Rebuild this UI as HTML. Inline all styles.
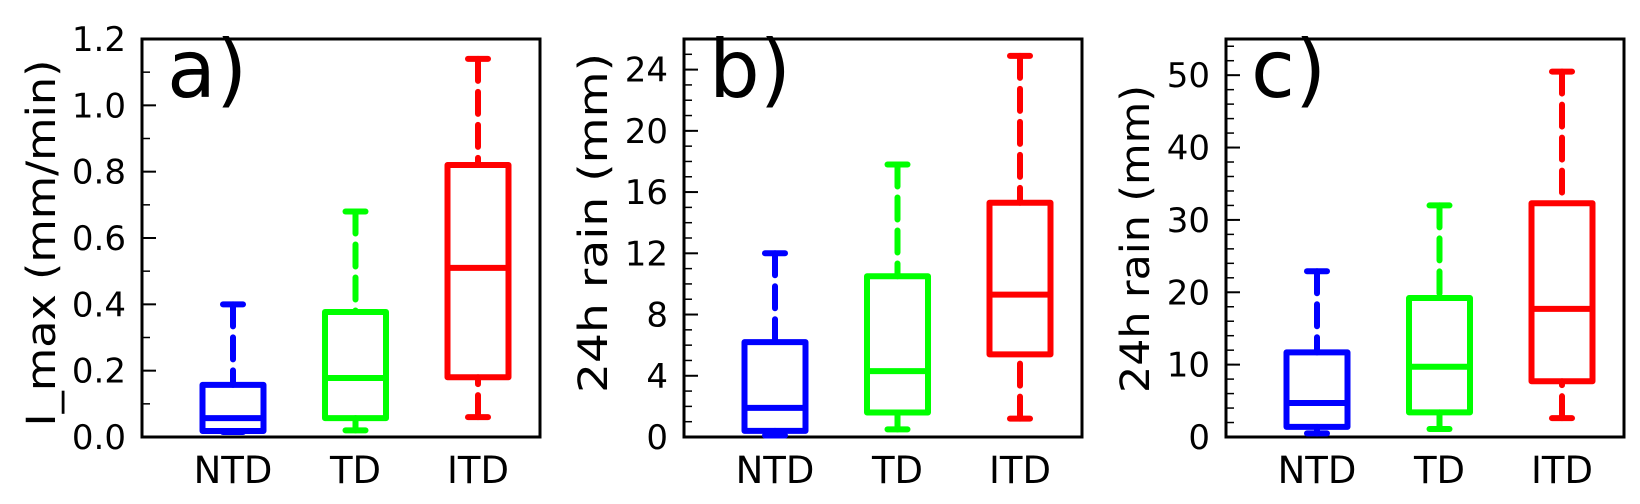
<!DOCTYPE html>
<html><head><meta charset="utf-8"><style>
html,body{margin:0;padding:0;background:#fff;}
svg{display:block;font-family:"DejaVu Sans","Liberation Sans",sans-serif;}
</style></head><body>
<svg id="chart" width="1640" height="504" viewBox="0 0 1640 504" xmlns="http://www.w3.org/2000/svg"></svg>
<script>
const categories = ["NTD", "TD", "ITD"];
const colors = ["#0000ff", "#00ff00", "#ff0000"];
// [min, q1, median, q3, max]
const panelAStats = [[0.015, 0.018, 0.057, 0.157, 0.40], [0.02, 0.057, 0.178, 0.377, 0.68], [0.06, 0.18, 0.51, 0.82, 1.14]];
const panelBStats = [[0.1, 0.4, 1.9, 6.2, 12.0], [0.5, 1.6, 4.3, 10.5, 17.8], [1.2, 5.4, 9.3, 15.3, 24.9]];
const panelCStats = [[0.5, 1.4, 4.7, 11.7, 22.9], [1.1, 3.4, 9.7, 19.2, 32.0], [2.6, 7.7, 17.7, 32.3, 50.5]];
const panelATicks = ["0.0", "0.2", "0.4", "0.6", "0.8", "1.0", "1.2"];
const panelBTicks = ["0", "4", "8", "12", "16", "20", "24"];
const panelCTicks = ["0", "10", "20", "30", "40", "50"];
const panelTitles = ["I_max (mm/min)", "24h rain (mm)", "24h rain (mm)"];
const panelLetters = ["a)", "b)", "c)"];

(function () {
const NS = "http://www.w3.org/2000/svg";
const svg = document.getElementById("chart");
function mk(tag, attrs, parent) {
  const e = document.createElementNS(NS, tag);
  for (const k in attrs) e.setAttribute(k, attrs[k]);
  (parent || svg).appendChild(e);
  return e;
}
const panels = [
  {left: 142, stats: panelAStats, ticks: panelATicks, max: 1.2, minor: 0.1, titleDx: 101, titleY: 243, titleLen: 367, name: "panel-a"},
  {left: 684, stats: panelBStats, ticks: panelBTicks, max: 26, minor: 1, titleDx: 91, titleY: 223, titleLen: 340, name: "panel-b"},
  {left: 1226, stats: panelCStats, ticks: panelCTicks, max: 55, minor: 2, titleDx: 91, titleY: 239, titleLen: 308, name: "panel-c"}
];
const plotTop = 39, plotBottom = 437, W = 398;
panels.forEach((p, pi) => {
  const g = mk("g", {});
  
  
  const y = v => plotBottom - v / p.max * (plotBottom - plotTop);
  const x = i => p.left + 91 + i * 122.5;
  const nMinor = Math.floor(p.max / p.minor + 1e-6);
  for (let k = 0; k <= nMinor; k++) {
    const v = k * p.minor;
    const t = mk("line", {x1: p.left, x2: p.left + 8, y1: y(v), y2: y(v), stroke: "#000", "stroke-width": 1.5}, g);
    
    
  }
  p.ticks.forEach(lbl => {
    const v = parseFloat(lbl);
    const t = mk("line", {x1: p.left, x2: p.left + 14, y1: y(v), y2: y(v), stroke: "#000", "stroke-width": 2}, g);
    
    
    const tx = mk("text", {x: p.left - 16, y: y(v) + 12, "text-anchor": "end", "font-size": 34, fill: "#000"}, g);
    tx.textContent = lbl;
    
    
  });
  const fr = mk("rect", {x: p.left, y: plotTop, width: W, height: plotBottom - plotTop, fill: "none", stroke: "#000", "stroke-width": 3}, g);
  
  
  const tt = mk("text", {x: 0, y: 0, "text-anchor": "middle", "font-size": 40, fill: "#000", transform: `translate(${p.left - p.titleDx + 14},${p.titleY}) rotate(-90)`, textLength: p.titleLen, lengthAdjust: "spacingAndGlyphs"}, g);
  tt.textContent = panelTitles[pi];
  
  
  const pl = mk("text", {x: p.left + 25, y: 97, "font-size": 80, fill: "#000"}, g);
  pl.textContent = panelLetters[pi];
  
  
  p.stats.forEach((s, i) => {
    const cx = x(i), c = colors[i];
    const bg = mk("g", {}, g);
    
    
    mk("line", {x1: cx, x2: cx, y1: y(s[4]), y2: y(s[3]), stroke: c, "stroke-width": 6, "stroke-dasharray": "22 11", "stroke-linecap": "round"}, bg);
    mk("line", {x1: cx, x2: cx, y1: y(s[0]), y2: y(s[1]), stroke: c, "stroke-width": 6, "stroke-dasharray": "22 11", "stroke-linecap": "round"}, bg);
    mk("line", {x1: cx - 10, x2: cx + 10, y1: y(s[4]), y2: y(s[4]), stroke: c, "stroke-width": 6, "stroke-linecap": "round"}, bg);
    mk("line", {x1: cx - 10, x2: cx + 10, y1: y(s[0]), y2: y(s[0]), stroke: c, "stroke-width": 6, "stroke-linecap": "round"}, bg);
    mk("rect", {x: cx - 30.5, y: y(s[3]), width: 61, height: y(s[1]) - y(s[3]), fill: "none", stroke: c, "stroke-width": 6, "stroke-linejoin": "round"}, bg);
    mk("line", {x1: cx - 30.5, x2: cx + 30.5, y1: y(s[2]), y2: y(s[2]), stroke: c, "stroke-width": 6}, bg);
    const xl = mk("text", {x: cx, y: 483, "text-anchor": "middle", "font-size": 37, fill: "#000"}, g);
    xl.textContent = categories[i];
    
    
  });
});
})();
</script>
</body></html>
